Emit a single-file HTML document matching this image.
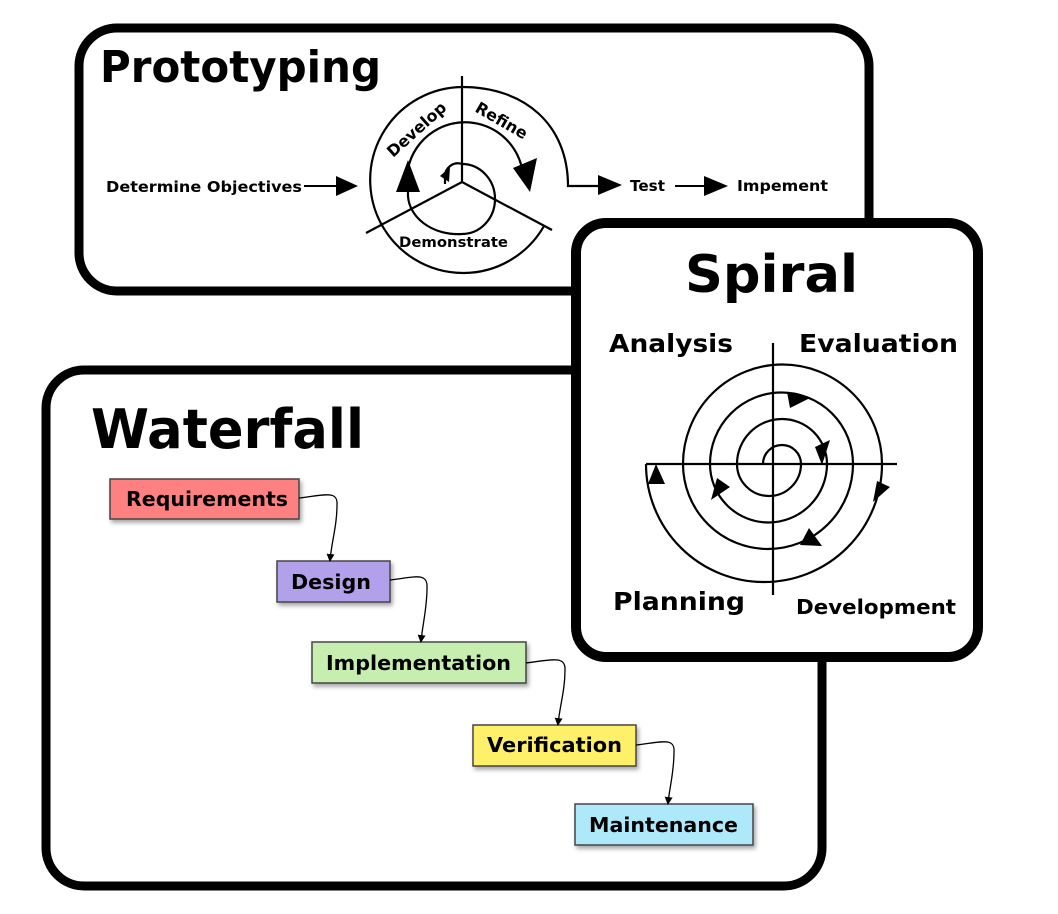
<!DOCTYPE html>
<html><head><meta charset="utf-8"><style>
html,body{margin:0;padding:0;background:#fff}
svg{display:block}
text{font-family:"DejaVu Sans","Liberation Sans",sans-serif;font-weight:bold;fill:#000}
</style></head><body>
<svg width="1058" height="914" viewBox="0 0 1058 914" xmlns="http://www.w3.org/2000/svg">
<defs>
<filter id="sh" x="-10%" y="-10%" width="130%" height="140%"><feDropShadow dx="2" dy="3" stdDeviation="2" flood-color="#000" flood-opacity="0.35"/></filter>
<marker id="sa" markerWidth="8" markerHeight="8" refX="6" refY="4" orient="auto" markerUnits="userSpaceOnUse"><path d="M0,0 L8,4 L0,8 Z" fill="#000"/></marker>
</defs>

<rect x="79" y="28" width="790" height="263" rx="38" fill="#fff" stroke="#000" stroke-width="9"/>
<text x="100" y="82" font-size="44" textLength="281" lengthAdjust="spacingAndGlyphs">Prototyping</text>
<text x="106" y="192" font-size="15" textLength="196" lengthAdjust="spacingAndGlyphs">Determine Objectives</text>
<line x1="304" y1="186" x2="340" y2="186" stroke="#000" stroke-width="2"/>
<path d="M336,176 L358,186 L336,196 Z"/>
<g fill="none" stroke="#000" stroke-width="2.2">
<line x1="462" y1="76" x2="462" y2="182"/>
<line x1="462" y1="182" x2="366" y2="233"/>
<line x1="462" y1="182" x2="552" y2="230"/>
<path d="M544,226 A93,93 0 1 1 462,87 C525,87 568,125 568,186 L600,186"/>
<path d="M407,186 A55,55 0 1 1 523,175"/>
<path d="M445,184 L445,177 A13,13 0 0 1 462,164 A33,35 0 0 1 462,234 A50,40 0 0 1 408,192"/>
</g>
<path d="M396,192 L408,160 L420,192 Z"/>
<path d="M513,168 L537,158 L530,192 Z"/>
<path d="M440,176 L450,167 L449,182 Z"/>
<path d="M598,175 L622,185 L598,195 Z"/>
<text x="630" y="191" font-size="15" textLength="35" lengthAdjust="spacingAndGlyphs">Test</text>
<line x1="675" y1="186" x2="706" y2="186" stroke="#000" stroke-width="2"/>
<path d="M704,176 L728,186 L704,196 Z"/>
<text x="737" y="191" font-size="15" textLength="91" lengthAdjust="spacingAndGlyphs">Impement</text>
<text x="399" y="247" font-size="14" textLength="109" lengthAdjust="spacingAndGlyphs">Demonstrate</text>
<text font-size="16" transform="translate(393,158) rotate(-42)">Develop</text>
<text font-size="16" transform="translate(474,111) rotate(30)">Refine</text>

<rect x="46" y="370" width="776" height="516" rx="38" fill="#fff" stroke="#000" stroke-width="9"/>
<text x="91" y="448" font-size="54" textLength="273" lengthAdjust="spacingAndGlyphs">Waterfall</text>
<g stroke="#444" stroke-width="1.5" filter="url(#sh)">
<rect x="110" y="479" width="189" height="40" fill="#ff8080"/>
<rect x="277" y="561" width="113" height="41" fill="#b3a0ea"/>
<rect x="312" y="642" width="214" height="41" fill="#c6eeae"/>
<rect x="473" y="725" width="163" height="41" fill="#fff06a"/>
<rect x="575" y="804" width="178" height="41" fill="#aee9fb"/>
</g>
<g font-size="20">
<text x="126" y="506" textLength="162" lengthAdjust="spacingAndGlyphs">Requirements</text>
<text x="291" y="589" textLength="80" lengthAdjust="spacingAndGlyphs">Design</text>
<text x="326" y="670" textLength="185" lengthAdjust="spacingAndGlyphs">Implementation</text>
<text x="487" y="752" textLength="135" lengthAdjust="spacingAndGlyphs">Verification</text>
<text x="589" y="832" textLength="149" lengthAdjust="spacingAndGlyphs">Maintenance</text>
</g>
<g fill="none" stroke="#000" stroke-width="1.3" marker-end="url(#sa)">
<path d="M299,498 C325,495 338,490 337,505 C337,525 332,540 330,560"/>
<path d="M390,580 C415,577 428,572 427,588 C427,608 423,622 421,641"/>
<path d="M526,663 C550,660 566,655 565,670 C565,690 560,705 558,724"/>
<path d="M636,745 C662,742 675,737 674,752 C674,772 670,785 668,803"/>
</g>

<rect x="576" y="223" width="402" height="434" rx="30" fill="#fff" stroke="#000" stroke-width="10"/>
<text x="685" y="292" font-size="52" textLength="173" lengthAdjust="spacingAndGlyphs">Spiral</text>
<text x="609" y="352" font-size="25" textLength="124" lengthAdjust="spacingAndGlyphs">Analysis</text>
<text x="799" y="352" font-size="25" textLength="159" lengthAdjust="spacingAndGlyphs">Evaluation</text>
<text x="613" y="610" font-size="25" textLength="132" lengthAdjust="spacingAndGlyphs">Planning</text>
<text x="796" y="614" font-size="20" textLength="160" lengthAdjust="spacingAndGlyphs">Development</text>
<g fill="none" stroke="#000" stroke-width="2.2">
<line x1="773" y1="343" x2="773" y2="595"/>
<line x1="646" y1="464" x2="897" y2="464"/>
<path d="M763,464 A19,19 0 0 1 801,464 A32,32 0 0 1 737,464 A45,45 0 0 1 827,464 A58.5,58.5 0 0 1 710,464 A71.5,71.5 0 0 1 853,464 A85,85 0 0 1 683,464 A99.5,99.5 0 0 1 882,464 A118,118 0 0 1 646,464"/>
</g>
<path d="M787,392 L810,398 L790,408 Z"/>
<path d="M815,447 L830,440 L822,465 Z"/>
<path d="M877,481 L890,487 L873,502 Z"/>
<path d="M809,528 L822,546 L800,545 Z"/>
<path d="M711,500 L730,487 L717,478 Z"/>
<path d="M648,484 L656,464 L665,484 Z"/>
</svg>
</body></html>
